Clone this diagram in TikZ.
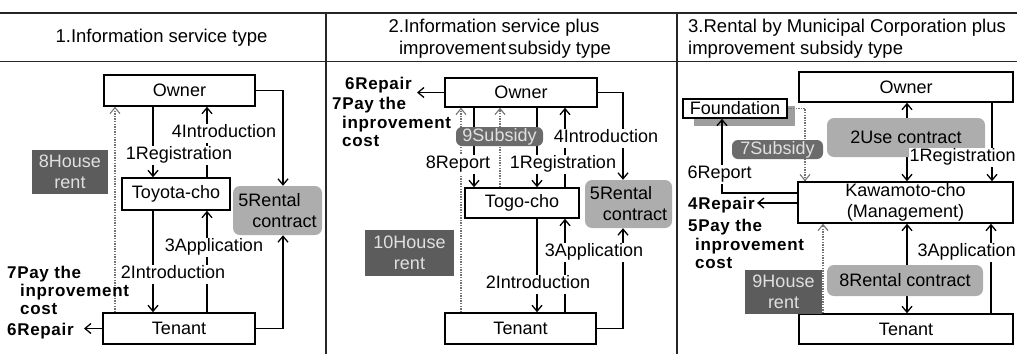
\documentclass[tikz,border=0pt]{standalone}
\usepackage{fontspec}
\setmainfont{Liberation Sans}
\usetikzlibrary{arrows.meta}

\definecolor{lightfill}{gray}{0.68}
\definecolor{midfill}{gray}{0.42}
\definecolor{darkfill}{gray}{0.36}
\definecolor{paletext}{gray}{0.88}
\definecolor{dotline}{gray}{0.45}

\tikzset{
  base/.style={font=\fontsize{18}{21}\selectfont},
  box/.style={base, draw, line width=1.5pt, fill=white, inner sep=0pt},
  lightbox/.style={base, fill=lightfill, rounded corners=7pt, inner sep=0pt},
  midbox/.style={base, fill=midfill, text=paletext, rounded corners=6pt, inner sep=0pt},
  darkbox/.style={base, fill=darkfill, text=paletext, inner sep=0pt, align=center},
  lab/.style={base, fill=white, inner xsep=0.5pt, inner ysep=1pt, text height=13pt, text depth=4pt},
  boldlab/.style={font=\fontsize{17}{19}\selectfont\bfseries\addfontfeature{LetterSpace=4}, inner sep=0pt},
  head/.style={font=\fontsize{18.5}{21}\selectfont, inner sep=0pt},
  rule/.style={line width=1.6pt, black!85},
  arr/.style={line width=1.3pt, -{Straight Barb[length=6pt,width=10pt,line width=1.3pt]}},
  dblarr/.style={line width=1.3pt, {Straight Barb[length=6pt,width=10pt,line width=1.3pt]}-{Straight Barb[length=6pt,width=10pt,line width=1.3pt]}},
  dotarr/.style={line width=1.4pt, dotline, dash pattern=on 1.4pt off 1.2pt,
    -{Straight Barb[length=6pt,width=10pt,line width=1.1pt]}},
}

\begin{document}
\begin{tikzpicture}[x=1pt, y=-1pt]
\useasboundingbox (0,0) rectangle (1017,354);
\clip (0,0) rectangle (1017,354);

% ---------- table frame ----------
\draw[rule] (0,13) -- (1017,13);
\draw[rule] (0,61.5) -- (1017,61.5);
\draw[rule] (326,13) -- (326,354);
\draw[rule] (677,13) -- (677,354);

\node[head] (h1) at (161.5,38) {1.Information service type};
\node[head] (h2a) at (494,28) {2.Information service plus};
\node[head] (h2b) at (505,50) {improvement\hspace{2pt}subsidy type};
\node[head, anchor=west] (h3a) at (688,28) {3.Rental by Municipal Corporation plus};
\node[head, anchor=west] (h3b) at (688,50) {improvement subsidy type};

% ---------- 1. Information service type ----------
\node[box, minimum width=151pt, minimum height=31pt] (own1) at (179.5,90.5) {Owner};
\node[box, minimum width=108pt, minimum height=32pt] (toy) at (176,194) {Toyota-cho};
\node[box, minimum width=152pt, minimum height=31pt] (ten1) at (179,328.5) {Tenant};

\draw[arr] (153,0 |- own1.south) -- (153,0 |- toy.north);
\draw[arr] (207,0 |- toy.north) -- (207,0 |- own1.south);
\draw[arr] (153,0 |- toy.south) -- (153,0 |- ten1.north);
\draw[arr] (207,0 |- ten1.north) -- (207,0 |- toy.south);
\draw[dotarr] (115,0 |- ten1.north) -- (115,0 |- own1.south);

\node[lightbox, minimum width=89pt, minimum height=49pt, align=left] (rc1) at (277.5,210.5) {5Rental\\\hspace*{14pt}contract};
\draw[arr] (own1.east) -| (283,0 |- rc1.north);
\draw[arr] (ten1.east) -| (283,0 |- rc1.south);

\node[darkbox, minimum width=76pt, minimum height=44pt] (hr1) at (70,172) {8House\\rent};

\coordinate (rep1) at (84,328.5);
\draw[arr] (ten1.west) -- (rep1);

\node[lab] (l1reg) at (179,155) {1Registration};
\node[lab] (l1int4) at (224,133) {4Introduction};
\node[lab] (l1app) at (214,247) {3Application};
\node[lab] (l1int2) at (173,274) {2Introduction};

\node[boldlab, anchor=base west] (l1pay) at (7,278) {7Pay the};
\node[boldlab, anchor=base west] (l1imp) at (20,296) {inprovement};
\node[boldlab, anchor=base west] (l1cost) at (20,314) {cost};
\node[boldlab, anchor=base west] (l1rep) at (7,335) {6Repair};

% ---------- 2. Information service plus improvement subsidy type ----------
\node[box, minimum width=152pt, minimum height=29pt] (own2) at (521,92.5) {Owner};
\node[box, minimum width=114pt, minimum height=30pt] (togo) at (522,203) {Togo-cho};
\node[box, minimum width=151pt, minimum height=31pt] (ten2) at (520.5,328.5) {Tenant};

\coordinate (rep2) at (417,92.5);
\draw[arr] (own2.west) -- (rep2);

\draw[dotarr] (461,0 |- ten2.north) -- (461,0 |- own2.south);
\draw[arr] (474,0 |- own2.south) -- (474,0 |- togo.north);
\draw[dotarr] (500,0 |- togo.north) -- (500,0 |- own2.south);
\draw[arr] (537,0 |- own2.south) -- (537,0 |- togo.north);
\draw[arr] (565,0 |- togo.north) -- (565,0 |- own2.south);
\draw[arr] (537,0 |- togo.south) -- (537,0 |- ten2.north);
\draw[arr] (565,0 |- ten2.north) -- (565,0 |- togo.south);

\node[lightbox, minimum width=87pt, minimum height=48pt, align=left] (rc2) at (628.5,204) {5Rental\\\hspace*{13pt}contract};
\draw[arr] (own2.east) -| (623,0 |- rc2.north);
\draw[arr] (ten2.east) -| (623,0 |- rc2.south);

\node[midbox, minimum width=87pt, minimum height=19pt] (sub9) at (499.5,136.5) {9Subsidy};
\node[darkbox, minimum width=89pt, minimum height=46pt] (hr10) at (409.5,253) {10House\\rent};

\node[lab] (l2int4) at (606,138) {4Introduction};
\node[lab] (l2rpt) at (458,164) {8Report};
\node[lab] (l2reg) at (563,164) {1Registration};
\node[lab] (l2app) at (594,252) {3Application};
\node[lab] (l2int2) at (538,284) {2Introduction};

\node[boldlab, anchor=base west] (l2rep) at (345,89) {6Repair};
\node[boldlab, anchor=base west] (l2pay) at (332,109) {7Pay the};
\node[boldlab, anchor=base west] (l2imp) at (342,128) {inprovement};
\node[boldlab, anchor=base west] (l2cost) at (342,146) {cost};

% ---------- 3. Rental by Municipal Corporation plus improvement subsidy type ----------
\node[box, minimum width=214pt, minimum height=30pt] (own3) at (906,87) {Owner};
\node[box, minimum width=215pt, minimum height=41pt, align=center] (kaw) at (905.5,202.5) {Kawamoto-cho\\(Management)};
\node[box, minimum width=214pt, minimum height=30pt] (ten3) at (906,329) {Tenant};

\fill[black!38] (694,106) rectangle (795,126);
\node[box, minimum width=104pt, minimum height=19pt] (found) at (735,108.5) {Foundation};

\draw[dblarr] (907,0 |- own3.south) -- (907,0 |- kaw.north);
\draw[arr] (992,0 |- own3.south) -- (992,0 |- kaw.north);
\draw[dotarr] (found.east) -| (805,0 |- kaw.north);
\draw[arr] (kaw.west |- 0,193) -| (722,0 |- found.south);
\coordinate (rep3) at (757,203);
\draw[arr] (kaw.west |- rep3) -- (rep3);
\draw[dotarr] (823,0 |- ten3.north) -- (823,0 |- kaw.south);
\draw[dblarr] (907,0 |- kaw.south) -- (907,0 |- ten3.north);
\draw[arr] (991,0 |- ten3.north) -- (991,0 |- kaw.south);

\node[lightbox, minimum width=158pt, minimum height=39pt] (uc2) at (906,137.5) {2Use contract};
\node[midbox, minimum width=91pt, minimum height=19pt] (sub7) at (777.5,149.5) {7Subsidy};
\node[lightbox, minimum width=156pt, minimum height=31pt] (rc8) at (905,280.5) {8Rental contract};
\node[darkbox, minimum width=77pt, minimum height=44pt] (hr9) at (783.5,292) {9House\\rent};

\node[lab, anchor=west] (l3reg) at (909,157) {1Registration};
\node[lab, anchor=west] (l3rpt) at (687,174) {6Report};
\node[lab, anchor=west] (l3app) at (917,252) {3Application};

\node[boldlab, anchor=base west] (l3rep) at (688,209) {4Repair};
\node[boldlab, anchor=base west] (l3pay) at (688,231) {5Pay the};
\node[boldlab, anchor=base west] (l3imp) at (695,250) {inprovement};
\node[boldlab, anchor=base west] (l3cost) at (695,268) {cost};
\end{tikzpicture}
\end{document}
